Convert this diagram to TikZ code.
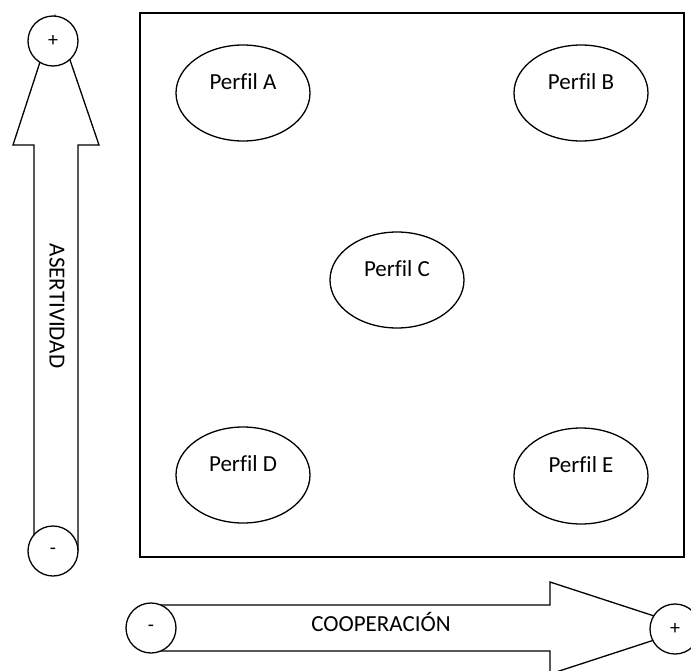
\documentclass[tikz,border=0pt]{standalone}
\usepackage{fontspec}
\setmainfont[Ligatures=NoCommon]{Carlito}
\usetikzlibrary{shapes.geometric,positioning}

\begin{document}
\begin{tikzpicture}[x=1pt, y=-1pt, line width=1.3pt,
  perfil/.style={ellipse, draw, minimum width=134pt, minimum height=96pt,
                 text height=16pt, text depth=24pt, font=\fontsize{23}{27}\selectfont},
  signo/.style={circle, draw, fill=white, minimum size=50pt, inner sep=0pt,
                font=\fontsize{20}{24}\selectfont},
  eje/.style={font=\fontsize{23}{27}\selectfont}
]
  \useasboundingbox (0,0) rectangle (691,670);

  % cuadro de perfiles
  \draw (140,13) rectangle (684,557);
  \node[perfil] (pA) at (243,93)  {Perfil A};
  \node[perfil] (pB) at (581,93)  {Perfil B};
  \node[perfil] (pC) at (397,280) {Perfil C};
  \node[perfil] (pD) at (243,475) {Perfil D};
  \node[perfil] (pE) at (581,476) {Perfil E};

  % flecha vertical
  \draw[fill=white] (34,551) -- (34,145) -- (13,145) -- (55,16)
    -- (99,145) -- (78,145) -- (78,551);
  \node[signo] (masV) at (53,41) {+};
  \node[signo] (menosV) at (53,551) {-};
  \node[eje, rotate=-90] (aser) at (57,306) {ASERTIVIDAD};

  % flecha horizontal
  \draw[fill=white] (151,605) -- (550,605) -- (550,582) -- (691,628)
    -- (550,674) -- (550,651) -- (151,651);
  \node[signo] (menosH) at (151,628) {-};
  \node[signo] (masH) at (675,629) {+};
  \node[eje] (coop) at (381,622) {COOPERACIÓN};
\end{tikzpicture}
\end{document}
